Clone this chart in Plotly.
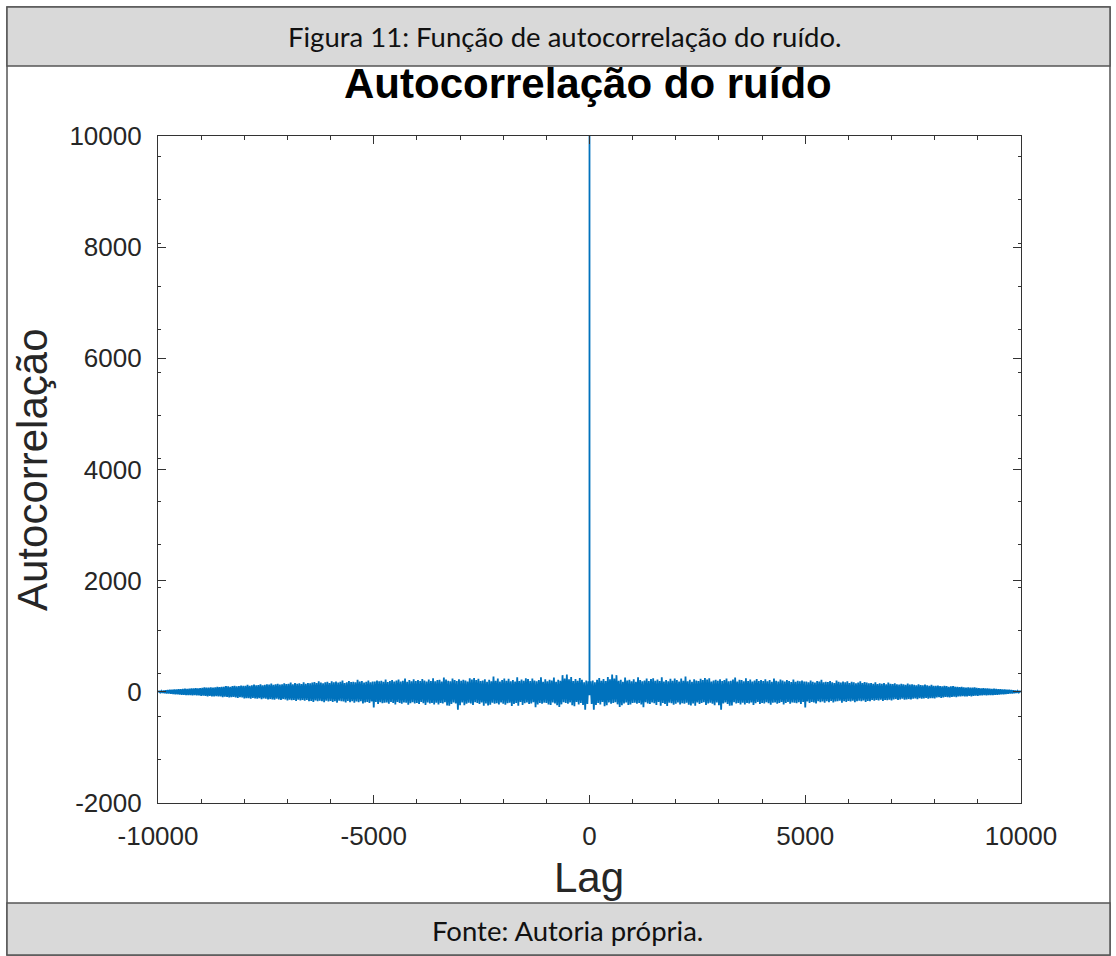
import plotly.graph_objects as go

# Autocorrelation estimate of the noise sequence for lags 0..10000
# (the function is even in the lag, so the negative side mirrors it).
lag_peak = [0, 1]
acf_peak = [10000, -60]

lag_step = 25
acf_tail = [
    # lags 25 .. 500
    190, -220, 205, -320, 170, -235, 215, -200, 250, -225, 200, -180, 230, -260, 195, -240, 265, -190, 225, -215,
    # lags 525 .. 1000
    310, -200, 240, -185, 300, -225, 200, -270, 215, -240, 180, -210, 255, -190, 205, -235, 215, -225, 190, -200,
    # lags 1025 .. 1500
    225, -195, 180, -215, 260, -200, 210, -225, 190, -275, 205, -185, 240, -210, 195, -220, 230, -190, 245, -205,
    # lags 1525 .. 2000
    200, -235, 220, -180, 195, -250, 260, -200, 185, -220, 210, -255, 190, -195, 235, -205, 200, -230, 240, -215,
    # lags 2025 .. 2500
    210, -190, 185, -225, 240, -205, 200, -215, 275, -195, 190, -230, 215, -245, 180, -210, 225, -250, 205, -190,
    # lags 2525 .. 3000
    195, -220, 235, -200, 210, -185, 250, -235, 220, -210, 245, -195, 185, -215, 205, -240, 215, -190, 200, -240,
    # lags 3025 .. 3500
    225, -320, 195, -210, 210, -190, 240, -220, 190, -250, 200, -245, 220, -185, 255, -210, 185, -200, 215, -225,
    # lags 3525 .. 4000
    210, -195, 190, -225, 245, -200, 195, -210, 220, -190, 185, -235, 205, -205, 230, -180, 195, -220, 210, -200,
    # lags 4025 .. 4500
    195, -210, 225, -185, 190, -205, 210, -230, 180, -195, 240, -190, 200, -215, 185, -200, 220, -180, 205, -225,
    # lags 4525 .. 5000
    185, -200, 210, -180, 195, -215, 175, -190, 220, -195, 180, -205, 200, -185, 190, -220, 205, -180, 185, -280,
    # lags 5025 .. 5500
    185, -175, 170, -200, 205, -180, 180, -190, 165, -210, 195, -170, 185, -185, 215, -175, 170, -195, 180, -170,
    # lags 5525 .. 6000
    175, -185, 195, -165, 170, -190, 160, -175, 205, -170, 180, -160, 165, -195, 185, -170, 170, -180, 190, -165,
    # lags 6025 .. 6500
    160, -175, 180, -160, 170, -185, 155, -170, 165, -160, 190, -170, 160, -155, 175, -180, 165, -165, 155, -170,
    # lags 6525 .. 7000
    160, -145, 145, -160, 170, -145, 140, -155, 155, -140, 145, -165, 160, -145, 135, -150, 165, -140, 145, -155,
    # lags 7025 .. 7500
    140, -135, 155, -130, 135, -145, 130, -135, 145, -125, 135, -140, 125, -135, 150, -130, 130, -135, 135, -125,
    # lags 7525 .. 8000
    125, -120, 115, -130, 135, -115, 120, -125, 115, -120, 130, -110, 115, -125, 110, -115, 125, -115, 110, -120,
    # lags 8025 .. 8500
    108, -102, 112, -98, 102, -108, 97, -102, 107, -92, 102, -97, 92, -102, 97, -92, 102, -87, 92, -97,
    # lags 8525 .. 9000
    88, -82, 85, -80, 90, -78, 80, -82, 75, -80, 82, -75, 78, -80, 75, -72, 80, -70, 72, -75,
    # lags 9025 .. 9500
    68, -65, 62, -64, 66, -60, 60, -62, 61, -57, 57, -59, 55, -57, 56, -52, 52, -54, 50, -48,
    # lags 9525 .. 10000
    48, -45, 45, -43, 43, -40, 38, -36, 36, -32, 32, -28, 27, -23, 22, -18, 16, -12, 8, 0,
]

x_ticks = [-10000, -5000, 0, 5000, 10000]
x_tick_text = ["-10000", "-5000", "0", "5000", "10000"]
y_ticks = [-2000, 0, 2000, 4000, 6000, 8000, 10000]
y_tick_text = ["-2000", "0", "2000", "4000", "6000", "8000", "10000"]

caption_top = "Figura 11: Função de autocorrelação do ruído."
caption_bottom = "Fonte: Autoria própria."
plot_title = "Autocorrelação do ruído"
x_title = "Lag"
y_title = "Autocorrelação"

# assemble the full symmetric lag axis
lag_pos = lag_peak + [lag_step * (i + 1) for i in range(len(acf_tail))]
acf_pos = acf_peak + acf_tail
lags = [-k for k in lag_pos[::-1]] + lag_pos[1:]
acf = acf_pos[::-1] + acf_pos[1:]

W, H = 1116, 956
L, R, T, B = 158, 1021, 136, 803


def px(x):
    return (x - L) / (R - L)


def py(y):
    return (B - y) / (B - T)


fig = go.Figure()
fig.add_trace(go.Scatter(
    x=lags, y=acf, mode="lines",
    line=dict(color="#0072BD", width=1.8),
    hoverinfo="skip", showlegend=False,
))

axis_col = "#333333"
tick_font = dict(family="Liberation Sans, Arial, sans-serif", size=26, color="#262626")

fig.update_xaxes(
    range=[-10000, 10000], tickvals=x_ticks, ticktext=x_tick_text,
    ticks="inside", ticklen=8, tickwidth=1, tickcolor=axis_col,
    showline=True, linecolor=axis_col, linewidth=1.2, mirror="ticks",
    showgrid=False, zeroline=False, tickfont=tick_font, ticklabelstandoff=10,
    minor=dict(ticks="inside", ticklen=4, tickcolor=axis_col, tick0=0, dtick=1000, showgrid=False),
)
fig.update_yaxes(
    range=[-2000, 10000], tickvals=y_ticks, ticktext=y_tick_text,
    ticks="inside", ticklen=8, tickwidth=1, tickcolor=axis_col,
    showline=True, linecolor=axis_col, linewidth=1.2, mirror="ticks",
    showgrid=False, zeroline=False, tickfont=tick_font, ticklabelstandoff=10,
    minor=dict(ticks="inside", ticklen=3, tickcolor=axis_col, tick0=-2000, dtick=775, showgrid=False),
)

box_line = dict(color="#555555", width=1.5)
shapes = [
    dict(type="rect", xref="paper", yref="paper", layer="below",
         x0=px(7), x1=px(1110), y0=py(955), y1=py(7), line=box_line, fillcolor="white"),
    dict(type="rect", xref="paper", yref="paper", layer="below",
         x0=px(7), x1=px(1110), y0=py(66), y1=py(7), line=box_line, fillcolor="#d9d9d9"),
    dict(type="rect", xref="paper", yref="paper", layer="below",
         x0=px(7), x1=px(1110), y0=py(955), y1=py(903), line=box_line, fillcolor="#d9d9d9"),
]

cap_font = dict(family="Lato, Carlito, sans-serif", size=27.5, color="#111111")
lab_font = dict(family="Liberation Sans, Arial, sans-serif", size=42, color="#262626")
annotations = [
    dict(text=caption_top, x=px(565), y=py(36), xref="paper", yref="paper",
         showarrow=False, font=cap_font, xanchor="center", yanchor="middle"),
    dict(text=caption_bottom, x=px(567), y=py(930), xref="paper", yref="paper",
         showarrow=False, font=cap_font, xanchor="center", yanchor="middle"),
    dict(text="<b>" + plot_title + "</b>", x=px(588), y=py(84), xref="paper", yref="paper",
         showarrow=False, font=dict(family="Liberation Sans, Arial, sans-serif", size=42, color="black"),
         xanchor="center", yanchor="middle"),
    dict(text=x_title, x=px(589), y=py(878), xref="paper", yref="paper",
         showarrow=False, font=lab_font, xanchor="center", yanchor="middle"),
    dict(text=y_title, x=px(32), y=py(470), xref="paper", yref="paper", textangle=-90,
         showarrow=False, font=lab_font, xanchor="center", yanchor="middle"),
]

fig.update_layout(
    width=W, height=H,
    margin=dict(l=L, r=W - R, t=T, b=H - B, pad=0),
    paper_bgcolor="white", plot_bgcolor="white",
    shapes=shapes, annotations=annotations,
)

fig.write_html("out.html")
